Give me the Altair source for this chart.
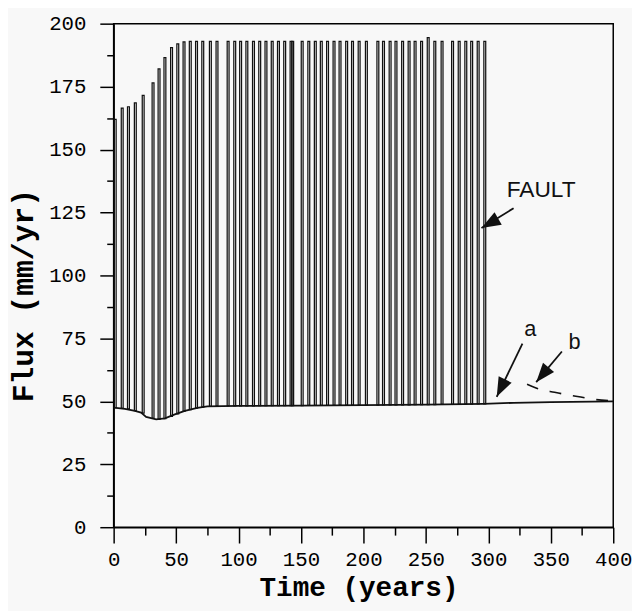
import altair as alt
import pandas as pd

# ---- data ----
spike_years = [0.5, 6.1, 11.1, 16.6, 22.9, 30.8, 35.6, 40.3, 45.6, 50.6, 55.6, 60.6,
               65.6, 70.6, 76.7, 82.0, 90.9, 96.2, 100.9, 105.9, 111.2, 116.2, 121.2,
               126.2, 131.2, 136.2, 141.3, 142.6, 150.2, 155.5, 160.7, 165.5, 170.5,
               175.7, 180.5, 185.8, 190.5, 195.8, 201.6, 210.8, 215.3, 220.6, 225.3,
               230.6, 235.8, 240.6, 245.8, 251.1, 256.4, 262.2, 270.6, 275.9, 281.2,
               285.9, 291.1, 296.4]
spike_peaks = [162, 166.5, 167, 168.5, 171.5, 176.5, 182, 186.5, 190.5, 192, 192.8, 193,
               193, 193, 193, 193, 193, 193, 193, 193, 193, 193, 193,
               193, 193, 193, 193, 193, 193, 193, 193, 193, 193,
               193, 193, 193, 193, 193, 193, 193, 193, 193, 193,
               193, 193, 193, 193, 194.5, 193, 193, 193, 193, 193,
               193, 193, 193]
spike_bases = [47.5, 47.2, 47.0, 46.3, 45.3, 43.2, 42.8, 43.1, 44.0, 45.0, 46.0, 46.7,
               47.3, 47.7, 48.0, 48.1, 48.2, 48.2, 48.2, 48.2, 48.2, 48.3, 48.3,
               48.3, 48.3, 48.3, 48.3, 48.3, 48.3, 48.4, 48.4, 48.4, 48.4,
               48.4, 48.5, 48.5, 48.5, 48.5, 48.5, 48.5, 48.6, 48.6, 48.6,
               48.6, 48.6, 48.7, 48.7, 48.7, 48.7, 48.8, 48.8, 48.8, 48.9,
               48.9, 49.0, 49.0]

base_years = [0, 9, 17, 22, 26, 34, 41, 49, 57, 67, 75, 100, 150, 200, 250, 296, 320, 350, 400]
base_flux = [47.5, 47.0, 46.2, 45.5, 43.8, 42.8, 43.2, 44.8, 46.2, 47.4, 48.0, 48.2,
             48.3, 48.5, 48.7, 49.0, 49.4, 49.7, 50.0]

b_years = [331, 342, 353, 362, 374, 386, 400]
b_flux = [56.8, 54.7, 53.6, 52.7, 51.7, 50.7, 50.2]

label_text = ["FAULT", "a", "b"]
label_x = [342.3, 333.6, 369.0]
label_y = [131.0, 76.1, 70.6]
label_size = [23, 22, 22]

arrow_tail_x = [320.2, 327.3, 358.9]
arrow_tail_y = [126.7, 72.9, 69.8]
arrow_tip_x = [294.5, 306.7, 338.3]
arrow_tip_y = [118.8, 51.8, 57.6]
arrow_angle = [150, 116, 130]

y_ticks = [i * 12.5 for i in range(17)]
x_ticks = [i * 25 for i in range(17)]

PULSE_WIDTH = 1.5  # years, visual width of each pulse

spikes = pd.DataFrame({"year": spike_years, "base": spike_bases, "peak": spike_peaks})
spikes["year_end"] = spikes["year"] + PULSE_WIDTH
base = pd.DataFrame({"year": base_years, "flux": base_flux})
bdf = pd.DataFrame({"year": b_years, "flux": b_flux})
labels = pd.DataFrame({"text": label_text, "x": label_x, "y": label_y, "size": label_size})
arrows = pd.DataFrame({"x": arrow_tail_x, "y": arrow_tail_y, "x2": arrow_tip_x,
                       "y2": arrow_tip_y, "angle": arrow_angle})

xscale = alt.Scale(domain=[0, 400], nice=False, zero=False)
yscale = alt.Scale(domain=[0, 200], nice=False)

mono = "Liberation Mono"

xaxis = alt.Axis(
    values=x_ticks,
    labelExpr="datum.value % 50 === 0 ? datum.label : ''",
    tickSize={"condition": {"test": "datum.value % 50 === 0", "value": 16}, "value": 8},
    tickColor="black", tickWidth=1.5, domainColor="black", domainWidth=1.5,
    grid=False, labelFont=mono, labelFontSize=21, labelColor="black", labelPadding=6,
    labelFlush=False, labelOverlap=False,
    title="Time (years)", titleFont=mono, titleFontSize=28, titleFontWeight="bold",
    titleColor="black", titleX=248, titleY=69, titleBaseline="alphabetic", titleAnchor="middle",
)
yaxis = alt.Axis(
    values=y_ticks,
    labelExpr="datum.value % 25 === 0 ? datum.label : ''",
    tickSize={"condition": {"test": "datum.value % 25 === 0", "value": 14}, "value": 7},
    tickColor="black", tickWidth=1.5, domainColor="black", domainWidth=1.5,
    grid=False, labelFont=mono, labelFontSize=21, labelColor="black", labelPadding=14,
    labelFlush=False, labelOverlap=False,
    title="Flux (mm/yr)", titleFont=mono, titleFontSize=30, titleFontWeight="bold",
    titleColor="black", titleX=-82, titleY=275, titleBaseline="alphabetic", titleAngle=-90,
)

X = lambda f: alt.X(f, scale=xscale, axis=xaxis)
Y = lambda f: alt.Y(f, scale=yscale, axis=yaxis)

spike_layer = alt.Chart(spikes).mark_rect(
    fill=None, fillOpacity=0, stroke="#111", strokeWidth=1.25
).encode(
    x=X("year:Q"),
    x2="year_end:Q",
    y=Y("base:Q"),
    y2="peak:Q",
)

base_layer = alt.Chart(base).mark_line(color="#111", strokeWidth=1.8).encode(
    x=X("year:Q"),
    y=Y("flux:Q"),
)

b_layer = alt.Chart(bdf).mark_line(color="#111", strokeWidth=1.6, strokeDash=[12, 12],
                                   interpolate="monotone").encode(
    x=X("year:Q"),
    y=Y("flux:Q"),
)

shaft_layer = alt.Chart(arrows).mark_rule(color="#111", strokeWidth=1.8).encode(
    x=X("x:Q"),
    y=Y("y:Q"),
    x2="x2:Q",
    y2="y2:Q",
)

head_layer = alt.Chart(arrows).mark_point(
    shape="M0,0 L-2,-0.75 L-2,0.75 Z", filled=True, color="#111", size=380, opacity=1,
).encode(
    x=X("x2:Q"),
    y=Y("y2:Q"),
    angle=alt.Angle("angle:Q", scale=None),
)

text_layer = alt.Chart(labels).mark_text(
    font="Liberation Sans", color="#111", align="center", baseline="alphabetic",
).encode(
    x=X("x:Q"),
    y=Y("y:Q"),
    text="text:N",
    size=alt.Size("size:Q", scale=None, legend=None),
)

chart = alt.layer(
    spike_layer, base_layer, b_layer, shaft_layer, head_layer, text_layer
).properties(
    width=506, height=510,
    padding={"left": 107, "top": 12, "right": 19, "bottom": 81},
    autosize=alt.AutoSizeParams(type="none"),
    background="#f8f8f8",
).configure_view(
    stroke="black", strokeWidth=1.5,
)

chart.save("out.html", embed_options={"renderer": "svg", "actions": False})
